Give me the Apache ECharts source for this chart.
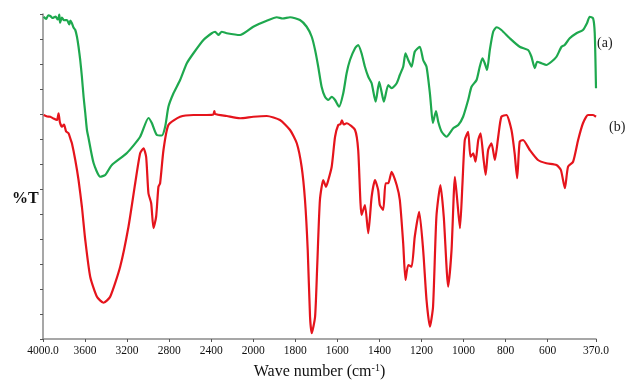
<!DOCTYPE html>
<html><head><meta charset="utf-8">
<script src="https://cdn.jsdelivr.net/npm/echarts@6/dist/echarts.min.js"></script>
<style>html,body{margin:0;padding:0;background:#fff}#c{width:631px;height:380px}</style>
</head><body><div id="c"></div>
<script>
// Wavenumber (cm-1) tick labels
const tickWavenumbers = [4000, 3600, 3200, 2800, 2400, 2000, 1800, 1600, 1400, 1200, 1000, 800, 600, 370];
// Spectrum (a): [wavenumber, %T]
const seriesA = [
[3994,128.9],[3970,128.0],[3950,129.5],[3931,129.2],[3910,128.4],[3880,129.0],[3860,127.8],[3852,128.3],[3845,129.8],[3838,126.5],[3820,128.6],[3800,127.5],[3772,127.6],[3750,125.8],[3740,127.4],[3725,126.3],[3710,124.6],[3693,123.6],[3677,120.9],[3662,116.9],[3646,111.6],[3630,104.9],[3614,96.9],[3598,90.4],[3582,83.6],[3567,80.4],[3519,70.4],[3456,64.9],[3408,65.6],[3345,69.6],[3202,74.4],[3076,80.9],[2997,88.4],[2965,86.4],[2917,81.6],[2870,81.4],[2838,84.9],[2807,92.9],[2759,98.3],[2696,103.6],[2632,110.3],[2569,114.3],[2474,119.6],[2395,122.3],[2363,122.9],[2332,121.6],[2300,122.9],[2252,122.3],[2126,121.6],[2000,124.9],[1936,127.3],[1888,128.7],[1860,128.2],[1825,128.7],[1778,127.6],[1746,124.9],[1722,120.9],[1706,115.6],[1691,108.9],[1675,100.9],[1659,96.9],[1643,95.6],[1627,96.9],[1611,95.6],[1592,92.9],[1572,98.3],[1556,106.3],[1540,111.6],[1516,116.3],[1501,117.6],[1485,114.3],[1469,108.9],[1453,104.9],[1437,102.3],[1418,94.9],[1401,102.9],[1390,98.9],[1379,94.9],[1358,101.6],[1342,100.3],[1318,102.3],[1303,105.6],[1287,108.9],[1276,114.3],[1263,111.6],[1247,108.9],[1232,114.9],[1208,116.9],[1192,111.6],[1176,108.9],[1160,98.3],[1155,93.6],[1146,86.4],[1131,91.2],[1120,86.8],[1104,82.9],[1081,80.9],[1049,84.3],[1025,85.6],[1002,88.9],[978,95.6],[962,100.9],[938,103.6],[923,108.9],[910,112.3],[899,110.3],[888,107.6],[875,115.6],[859,122.9],[843,124.7],[820,123.6],[780,120.3],[733,116.9],[693,115.6],[677,112.9],[661,108.3],[650,110.9],[629,110.3],[606,109.6],[582,110.9],[558,112.9],[534,116.9],[519,117.6],[495,120.3],[463,122.3],[432,123.6],[413,126.3],[400,128.9],[384,128.3],[376,122.3],[370,100.3]
];
// Spectrum (b): [wavenumber, %T]
const seriesB = [
[3994,89.6],[3960,89.0],[3931,88.9],[3900,88.2],[3867,87.6],[3852,90.3],[3840,86.8],[3820,84.9],[3800,85.8],[3780,83.0],[3757,82.3],[3740,80.2],[3725,78.3],[3693,71.6],[3662,63.6],[3630,52.9],[3598,39.6],[3551,24.9],[3487,16.9],[3424,14.5],[3361,16.9],[3266,28.9],[3187,44.9],[3123,62.3],[3076,74.3],[3044,76.3],[3019,72.9],[2997,58.3],[2971,54.3],[2949,44.3],[2924,48.9],[2902,60.9],[2886,62.3],[2854,75.6],[2807,85.6],[2696,88.9],[2569,89.6],[2442,89.6],[2380,89.8],[2370,91.2],[2363,90.0],[2252,89.2],[2126,88.3],[2000,88.9],[1936,89.2],[1873,87.6],[1825,83.6],[1793,78.3],[1770,68.9],[1754,55.6],[1741,35.6],[1730,8.9],[1722,2.3],[1706,8.9],[1696,28.9],[1683,55.6],[1667,63.6],[1654,60.9],[1643,63.6],[1627,68.9],[1611,80.9],[1596,85.6],[1585,86.0],[1578,87.5],[1570,85.8],[1556,86.3],[1516,83.6],[1501,75.6],[1485,49.6],[1469,53.6],[1453,42.3],[1437,56.9],[1421,63.6],[1406,59.6],[1398,53.6],[1382,51.6],[1371,62.3],[1358,62.3],[1342,66.9],[1318,61.6],[1303,55.6],[1287,38.3],[1276,23.6],[1263,29.6],[1247,28.9],[1232,40.9],[1211,50.9],[1192,35.6],[1176,15.6],[1160,4.9],[1145,12.9],[1129,48.9],[1110,61.6],[1094,48.9],[1073,20.9],[1057,35.6],[1041,64.9],[1030,55.6],[1017,44.3],[1005,62.3],[994,79.6],[978,82.9],[967,72.9],[954,74.3],[943,70.9],[930,79.6],[919,82.3],[906,72.9],[895,65.6],[883,75.6],[867,78.3],[851,71.6],[835,80.9],[820,88.9],[796,89.6],[772,83.6],[757,74.3],[745,64.3],[733,78.9],[717,79.6],[685,75.6],[646,71.6],[606,70.3],[558,69.6],[537,67.6],[518,60.3],[503,68.9],[479,70.9],[455,79.6],[432,86.3],[408,89.6],[384,89.6],[370,88.9]
];

// piecewise wavenumber scale: region above 2000 cm-1 compressed by factor 2
function toAxis(w){ return w >= 2000 ? 2000 + (w - 2000) / 2 : w; }
function fromAxis(u){ return u >= 2000 ? 2000 + (u - 2000) * 2 : u; }
const tickAxisValues = tickWavenumbers.map(toAxis);

const chart = echarts.init(document.getElementById('c'), null, {renderer:'canvas'});
const serif = '"Liberation Serif", "Times New Roman", serif';
chart.setOption({
  animation:false,
  backgroundColor:'#fff',
  grid:{left:43, right:35, top:14, bottom:41, containLabel:false, outerBoundsMode:'none'},
  xAxis:{
    type:'value', min:370, max:3000, inverse:true,
    axisLine:{show:true, lineStyle:{color:'#8a8a8a', width:1.5}},
    axisTick:{show:true, customValues:tickAxisValues, length:3, lineStyle:{color:'#555'}},
    splitLine:{show:false},
    axisLabel:{
      customValues:tickAxisValues, margin:6,
      fontFamily:serif, fontSize:11.5, color:'#111',
      formatter:function(v){
        const w = Math.round(fromAxis(v));
        return (w===4000||w===370) ? w.toFixed(1) : String(w);
      }
    },
    name:'{t|Wave number (cm}{s|-1}{t|)}',
    nameLocation:'middle', nameGap:24,
    nameTextStyle:{rich:{
      t:{fontFamily:serif, fontSize:16, color:'#111'},
      s:{fontFamily:serif, fontSize:10, color:'#111', verticalAlign:'top', padding:[0,0,8,0]}
    }}
  },
  yAxis:{
    type:'value', min:0, max:130, interval:10,
    axisLine:{show:true, lineStyle:{color:'#8a8a8a', width:1.5}},
    axisTick:{show:true, length:3, lineStyle:{color:'#555'}},
    axisLabel:{show:false},
    splitLine:{show:false}
  },
  series:[
    {type:'line', name:'(a)', showSymbol:false, symbol:'none', smooth:0.2,
     lineStyle:{color:'#1ea84e', width:2.2},
     data:seriesA.map(p=>[toAxis(p[0]), p[1]])},
    {type:'line', name:'(b)', showSymbol:false, symbol:'none', smooth:0.2,
     lineStyle:{color:'#e5141c', width:2.2},
     data:seriesB.map(p=>[toAxis(p[0]), p[1]])}
  ],
  graphic:[
    {type:'text', left:12, top:191, style:{text:'%T', font:'bold 16px "Liberation Serif", serif', fill:'#111'}},
    {type:'text', left:597, top:36, style:{text:'(a)', font:'14px "Liberation Serif", serif', fill:'#222'}},
    {type:'text', left:609, top:120, style:{text:'(b)', font:'14px "Liberation Serif", serif', fill:'#222'}}
  ]
});
</script></body></html>
